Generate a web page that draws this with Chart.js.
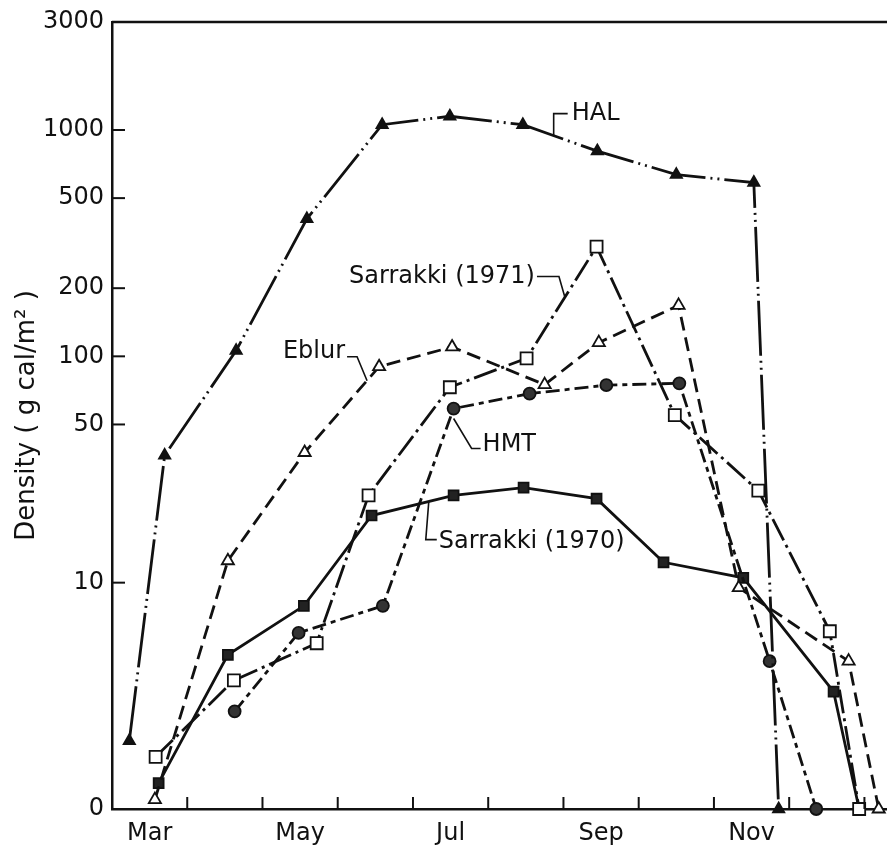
<!DOCTYPE html>
<html>
<head>
<meta charset="utf-8">
<title>Density</title>
<script src="https://cdn.jsdelivr.net/npm/chart.js@4.4.1/dist/chart.umd.min.js"></script>
<style>
  html, body { margin: 0; padding: 0; background: #fff; }
  #wrap { width: 887px; height: 854px; position: relative; }
</style>
</head>
<body>
<div id="wrap"><canvas id="densityChart"></canvas></div>
<script>
// x values are months as decimals: 3 = 1 March, 4 = 1 April ...
const monthNames = ['Jan', 'Feb', 'Mar', 'Apr', 'May', 'Jun', 'Jul', 'Aug', 'Sep', 'Oct', 'Nov', 'Dec', 'Jan'];
const monthLabels = ['Mar', 'May', 'Jul', 'Sep', 'Nov'];
const yTicks = [1, 10, 50, 100, 200, 500, 1000, 3000];   // 1 is shown as "0"

const halMonths = [3.23, 3.70, 4.65, 5.59, 6.59, 7.49, 8.46, 9.45, 10.50, 11.53, 11.86];
const halDensity = [2.0, 36.5, 106, 405, 1055, 1150, 1055, 807, 635, 586, 1];

const eblurMonths = [3.57, 4.54, 5.56, 6.55, 7.52, 8.75, 9.47, 10.53, 11.33, 12.79, 13.19];
const eblurDensity = [1.1, 12.5, 37.6, 90, 110, 75, 115, 168, 9.5, 4.5, 1];

const sar71Months = [3.58, 4.62, 5.72, 6.41, 7.49, 8.51, 9.44, 10.48, 11.59, 12.54, 12.93];
const sar71Density = [1.7, 3.7, 5.4, 24.3, 73, 98, 305, 55, 25.5, 6.1, 1];

const hmtMonths = [4.63, 5.48, 6.60, 7.54, 8.55, 9.57, 10.54, 11.74, 12.36];
const hmtDensity = [2.7, 6.0, 7.9, 58.8, 68.4, 74.6, 76, 4.5, 1];

const sar70Months = [3.62, 4.54, 5.55, 6.45, 7.54, 8.47, 9.44, 10.33, 11.39, 12.59, 12.93];
const sar70Density = [1.3, 4.8, 7.9, 19.8, 24.3, 26.3, 23.5, 12.3, 10.5, 3.3, 1];

// name tags with leader lines: anchor in data space, offsets in px
const seriesNotes = [
    { text: 'HAL', at: [8.87, 944], path: [[0, 0], [0, -22], [14, -22]], label: [18, -22], align: 'left' },
    { text: 'Sarrakki (1971)', at: [9.02, 182], path: [[0, 0], [-6, -21], [-28, -21]], label: [-30, -21], align: 'right' },
    { text: 'Eblur', at: [6.39, 78], path: [[0, 0], [-10, -24], [-20, -24]], label: [-22, -29], align: 'right' },
    { text: 'HMT', at: [7.54, 58.8], path: [[0, 10], [18, 40], [27, 40]], label: [29, 36], align: 'left' },
    { text: 'Sarrakki (1970)', at: [7.21, 22.8], path: [[0, 0], [-3, 38], [8, 38]], label: [10, 40], align: 'left' }
];

const ink = '#111';
const fontFamily = '"DejaVu Sans", sans-serif';

function toPoints(months, values) {
    return months.map((m, i) => ({ x: m, y: values[i] }));
}

function series(months, values, dash, style, fill, radius) {
    return {
        data: toPoints(months, values),
        borderColor: ink,
        borderWidth: 2.8,
        borderDash: dash,
        tension: 0,
        pointStyle: style,
        pointRadius: radius,
        pointBackgroundColor: fill,
        pointBorderColor: ink,
        pointBorderWidth: 1.8,
        clip: false
    };
}

const inkPlugin = {
    id: 'ink',
    afterDraw(chart) {
        const { ctx, chartArea: a, scales: { x, y } } = chart;
        ctx.save();
        ctx.strokeStyle = ink;
        ctx.fillStyle = ink;

        // top frame line
        ctx.lineWidth = 2.5;
        ctx.beginPath();
        ctx.moveTo(a.left, a.top);
        ctx.lineTo(a.right, a.top);
        ctx.stroke();

        // tick marks pointing inwards
        ctx.lineWidth = 2;
        for (let m = Math.ceil(x.min) + 1; m <= x.max; m++) {
            const px = x.getPixelForValue(m);
            ctx.beginPath();
            ctx.moveTo(px, a.bottom);
            ctx.lineTo(px, a.bottom - 12);
            ctx.stroke();
        }
        yTicks.slice(1, -1).forEach(v => {
            const py = y.getPixelForValue(v);
            ctx.beginPath();
            ctx.moveTo(a.left, py);
            ctx.lineTo(a.left + 13, py);
            ctx.stroke();
        });

        // series names
        ctx.font = '24px ' + fontFamily;
        ctx.textBaseline = 'middle';
        ctx.lineWidth = 1.6;
        seriesNotes.forEach(n => {
            const ax = x.getPixelForValue(n.at[0]);
            const ay = y.getPixelForValue(n.at[1]);
            ctx.beginPath();
            n.path.forEach((p, i) => {
                if (i === 0) ctx.moveTo(ax + p[0], ay + p[1]);
                else ctx.lineTo(ax + p[0], ay + p[1]);
            });
            ctx.stroke();
            ctx.textAlign = n.align;
            ctx.fillText(n.text, ax + n.label[0], ay + n.label[1]);
        });
        ctx.restore();
    }
};

const ctx = document.getElementById('densityChart');
new Chart(ctx, {
    type: 'line',
    data: {
        datasets: [
            series(halMonths, halDensity, [55, 5, 2, 5, 2, 5], 'triangle', ink, 6.5),
            series(eblurMonths, eblurDensity, [14, 7], 'triangle', '#fff', 7),
            series(sar71Months, sar71Density, [24, 5, 3, 5], 'rect', '#fff', 8.5),
            series(hmtMonths, hmtDensity, [14, 5, 5, 5], 'circle', '#333', 6),
            series(sar70Months, sar70Density, [], 'rect', '#222', 7)
        ]
    },
    options: {
        responsive: true,
        maintainAspectRatio: false,
        animation: false,
        layout: { autoPadding: false, padding: { top: 22, right: 0, bottom: 0, left: 0 } },
        plugins: {
            legend: { display: false },
            tooltip: { enabled: false }
        },
        scales: {
            x: {
                type: 'linear',
                min: 3,
                max: 13.3,
                grid: { display: false, drawTicks: false },
                border: { display: true, color: ink, width: 2.5 },
                afterBuildTicks: scale => {
                    scale.ticks = monthLabels.map(l => ({ value: monthNames.indexOf(l) + 1.5 }));
                },
                afterFit: scale => {
                    scale.height = 45;
                    scale.paddingLeft = 0;
                    scale.paddingRight = 0;
                },
                ticks: {
                    autoSkip: false,
                    maxRotation: 0,
                    minRotation: 0,
                    padding: 10,
                    color: ink,
                    font: { family: fontFamily, size: 24 },
                    callback: v => monthNames[Math.floor(v) - 1]
                }
            },
            y: {
                type: 'logarithmic',
                min: 1,
                max: 3000,
                grid: { display: false, drawTicks: false },
                border: { display: true, color: ink, width: 2.5 },
                afterBuildTicks: scale => {
                    scale.ticks = yTicks.map(v => ({ value: v }));
                },
                afterFit: scale => {
                    scale.width = 112;
                    scale.paddingTop = 0;
                    scale.paddingBottom = 0;
                },
                ticks: {
                    padding: 8,
                    color: ink,
                    font: { family: fontFamily, size: 24 },
                    callback: v => (v === 1 ? '0' : String(v))
                },
                title: {
                    display: true,
                    text: 'Density ( g cal/m² )',
                    color: ink,
                    font: { family: fontFamily, size: 26 },
                    padding: { top: 12, bottom: 0 }
                }
            }
        }
    },
    plugins: [inkPlugin]
});
</script>
</body>
</html>
